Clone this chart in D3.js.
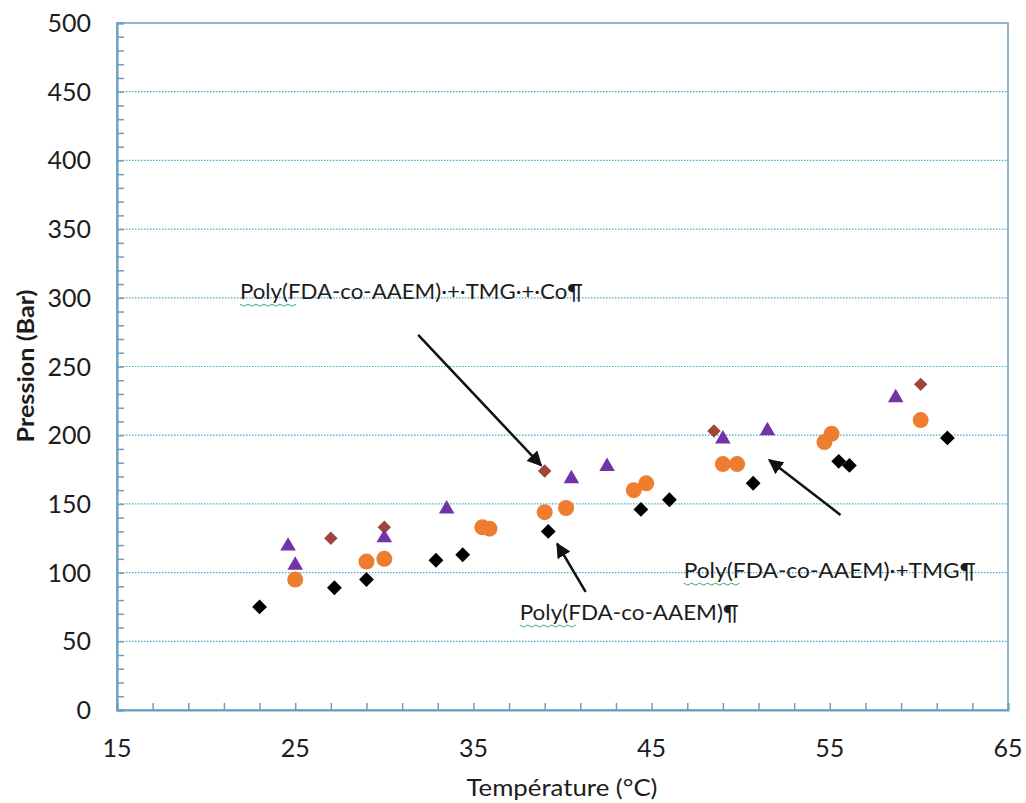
<!DOCTYPE html>
<html><head><meta charset="utf-8">
<script src="https://cdn.jsdelivr.net/npm/d3@7"></script>
<style>body{margin:0;background:#fff}svg{display:block}</style>
</head><body><svg id="c" width="1026" height="803"></svg>
<script>
// Poly(FDA-co-AAEM) — black diamonds
const tempBlack = [23.0, 27.2, 29.0, 32.9, 34.4, 39.2, 44.4, 46.0, 50.7, 55.5, 56.1, 61.6];
const presBlack = [75, 89, 95, 109, 113, 130, 146, 153, 165, 181, 178, 198];
// orange circles
const tempOrange = [25.0, 29.0, 30.0, 35.5, 35.9, 39.0, 40.2, 44.0, 44.7, 49.0, 49.8, 54.7, 55.1, 60.1];
const presOrange = [95, 108, 110, 133, 132, 144, 147, 160, 165, 179, 179, 195, 201, 211];
// purple triangles
const tempPurple = [24.6, 25.0, 30.0, 33.5, 40.5, 42.5, 49.0, 51.5, 58.7];
const presPurple = [120, 106, 126, 147, 169, 178, 198, 204, 228];
// brown diamonds
const tempBrown = [27.0, 30.0, 39.0, 48.5, 60.1];
const presBrown = [125, 133, 174, 203, 237];

const xTicks = [15, 25, 35, 45, 55, 65];
const yTicks = [0, 50, 100, 150, 200, 250, 300, 350, 400, 450, 500];
const xTitle = "Température (°C)";
const yTitle = "Pression (Bar)";

// annotations in data units
const labels = [
  {text: "Poly(FDA-co-AAEM)·+·TMG·+·Co¶", x: 21.9, y: 299, w: 343},
  {text: "Poly(FDA-co-AAEM)·+TMG¶", x: 46.8, y: 96, w: 292},
  {text: "Poly(FDA-co-AAEM)¶", x: 37.6, y: 65.5, w: 219}
];
const arrows = [
  {x1: 31.9, y1: 273, x2: 38.8, y2: 178},
  {x1: 55.6, y1: 142, x2: 51.6, y2: 182},
  {x1: 41.3, y1: 86, x2: 39.7, y2: 121}
];

const svg = d3.select("#c");
const x = d3.scaleLinear().domain([15, 65]).range([117, 1008]);
const y = d3.scaleLinear().domain([0, 500]).range([710, 23]);
const axisColor = "#6a9fbd";
const font = "Lato, 'Open Sans', sans-serif";
const ink = "#1c1c1c";

// gridlines
svg.append("g").selectAll("line").data(yTicks.filter(d => d > 0 && d < 500)).join("line")
  .attr("x1", x(15)).attr("x2", x(65)).attr("y1", d => y(d)).attr("y2", d => y(d))
  .attr("stroke", "#4aa8c8").attr("stroke-width", 1.2).attr("stroke-dasharray", "1.5,1.5");

// frame
svg.append("rect").attr("x", x(15)).attr("y", y(500)).attr("width", x(65) - x(15)).attr("height", y(0) - y(500))
  .attr("fill", "none").attr("stroke", axisColor).attr("stroke-width", 1.5);

// axes
const xAxis = d3.axisBottom(x).tickValues(d3.range(15, 65.1, 2)).tickSize(-7).tickFormat("");
const gx = svg.append("g").attr("transform", `translate(0,${y(0)})`).call(xAxis);
gx.select(".domain").attr("stroke", axisColor).attr("stroke-width", 2);
gx.selectAll(".tick line").attr("stroke", axisColor).attr("stroke-width", 1.5);
const yAxis = d3.axisLeft(y).tickValues(d3.range(0, 500.1, 10)).tickSize(-7).tickFormat("");
const gy = svg.append("g").attr("transform", `translate(${x(15)},0)`).call(yAxis);
gy.select(".domain").attr("stroke", axisColor).attr("stroke-width", 2);
gy.selectAll(".tick line").attr("stroke", axisColor).attr("stroke-width", 1.5);

// tick labels
svg.append("g").selectAll("text").data(xTicks).join("text")
  .attr("x", d => x(d)).attr("y", 757).attr("text-anchor", "middle")
  .attr("font-family", font).attr("font-size", 25).attr("fill", ink).text(d => d);
svg.append("g").selectAll("text").data(yTicks).join("text")
  .attr("x", 91).attr("y", d => y(d) + 9).attr("text-anchor", "end")
  .attr("font-family", font).attr("font-size", 25).attr("fill", ink).text(d => d);

// titles
svg.append("text").attr("x", 562).attr("y", 796).attr("text-anchor", "middle")
  .attr("font-family", font).attr("font-size", 24).attr("fill", ink)
  .attr("textLength", 191).attr("lengthAdjust", "spacingAndGlyphs").text(xTitle);
svg.append("text").attr("transform", "translate(34,366) rotate(-90)").attr("text-anchor", "middle")
  .attr("font-family", font).attr("font-size", 23).attr("font-weight", "bold").attr("fill", ink)
  .attr("textLength", 153).attr("lengthAdjust", "spacingAndGlyphs").text(yTitle);

// markers
const g = svg.append("g");
g.selectAll(".br").data(tempBrown.map((t, i) => [t, presBrown[i]])).join("path")
  .attr("d", d3.symbol(d3.symbolSquare, 90)())
  .attr("transform", d => `translate(${x(d[0])},${y(d[1])}) rotate(45)`).attr("fill", "#9e463d");
g.selectAll(".bk").data(tempBlack.map((t, i) => [t, presBlack[i]])).join("path")
  .attr("d", d3.symbol(d3.symbolSquare, 110)())
  .attr("transform", d => `translate(${x(d[0])},${y(d[1])}) rotate(45)`).attr("fill", "#000");
g.selectAll(".or").data(tempOrange.map((t, i) => [t, presOrange[i]])).join("circle")
  .attr("cx", d => x(d[0])).attr("cy", d => y(d[1])).attr("r", 8).attr("fill", "#ee7d2f");
g.selectAll(".pu").data(tempPurple.map((t, i) => [t, presPurple[i]])).join("path")
  .attr("d", d3.symbol(d3.symbolTriangle, 105)())
  .attr("transform", d => `translate(${x(d[0])},${y(d[1]) + 1})`).attr("fill", "#7232a8");

// arrows
svg.append("defs").append("marker").attr("id", "ah").attr("viewBox", "0 0 10 10")
  .attr("refX", 9).attr("refY", 5).attr("markerWidth", 6).attr("markerHeight", 6)
  .attr("orient", "auto").attr("markerUnits", "strokeWidth")
  .append("path").attr("d", "M0,0 L10,5 L0,10 Z").attr("fill", "#111");
svg.append("g").selectAll("line").data(arrows).join("line")
  .attr("x1", d => x(d.x1)).attr("y1", d => y(d.y1)).attr("x2", d => x(d.x2)).attr("y2", d => y(d.y2))
  .attr("stroke", "#111").attr("stroke-width", 2.5).attr("marker-end", "url(#ah)");

// labels
const lg = svg.append("g");
lg.selectAll("text").data(labels).join("text")
  .attr("x", d => x(d.x)).attr("y", d => y(d.y))
  .attr("font-family", font).attr("font-size", 21).attr("fill", ink)
  .attr("textLength", d => d.w).attr("lengthAdjust", "spacingAndGlyphs").text(d => d.text);
// wavy underline under "Poly"
lg.selectAll("path").data(labels).join("path")
  .attr("d", d => {
    const x0 = x(d.x), y0 = y(d.y) + 5; let p = `M${x0},${y0}`;
    for (let i = 1; i <= 14; i++) p += ` L${x0 + i * 4},${y0 + (i % 2 ? 2 : 0)}`;
    return p;
  })
  .attr("fill", "none").attr("stroke", "#3fae6a").attr("stroke-width", 1);
</script></body></html>
